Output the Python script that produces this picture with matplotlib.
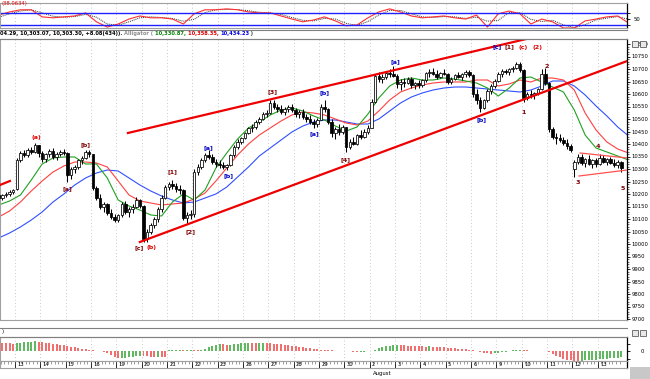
import matplotlib
matplotlib.use("Agg")
import matplotlib.pyplot as plt
from matplotlib import font_manager
from matplotlib.lines import Line2D
from matplotlib.patches import Rectangle
import numpy as np

try:
    font_manager.findfont("Liberation Sans Narrow", fallback_to_default=False)
    plt.rcParams["font.family"] = ["Liberation Sans Narrow", "DejaVu Sans"]
    FS = 4.8
except ValueError:
    plt.rcParams["font.family"] = ["DejaVu Sans"]
    FS = 3.8

# ---- data: DJIA hourly bars, 7 per day ----
day_labels = ["12", "13", "14", "15", "16", "19", "20", "21", "22", "23", "26", "27", "28",
              "29", "30", "2", "3", "4", "5", "6", "9", "10", "11", "12", "13"]
bars_per_day = 7

opens = [10198, 10205, 10195, 10185, 10196, 10200, 10210,
         10220, 10336, 10365, 10356, 10378, 10370, 10395,
         10363, 10340, 10360, 10372, 10348, 10362, 10370,
         10366, 10275, 10300, 10310, 10335, 10345, 10370,
         10359, 10225, 10185, 10150, 10160, 10125, 10110,
         10097, 10115, 10160, 10130, 10140, 10150, 10178,
         10154, 10020, 10050, 10075, 10100, 10140, 10185,
         10229, 10240, 10232, 10222, 10215, 10105, 10118,
         10120, 10290, 10310, 10338, 10355, 10350, 10328,
         10322, 10315, 10310, 10318, 10355, 10388, 10410,
         10424, 10445, 10465, 10470, 10490, 10500, 10520,
         10525, 10565, 10548, 10540, 10530, 10542, 10550,
         10537, 10520, 10528, 10510, 10500, 10490, 10480,
         10497, 10550, 10540, 10490, 10445, 10460, 10450,
         10467, 10390, 10410, 10400, 10435, 10430, 10450,
         10466, 10570, 10672, 10660, 10670, 10685, 10680,
         10674, 10640, 10650, 10645, 10660, 10635, 10645,
         10636, 10655, 10685, 10690, 10680, 10670, 10685,
         10680, 10650, 10662, 10675, 10670, 10680, 10688,
         10675, 10600, 10575, 10545, 10575, 10612, 10632,
         10654, 10680, 10692, 10688, 10700, 10705, 10720,
         10698, 10585, 10600, 10595, 10605, 10620, 10680,
         10644, 10460, 10430, 10425, 10418, 10405, 10392,
         10300, 10330, 10350, 10325, 10340, 10322, 10335,
         10320, 10345, 10330, 10340, 10325, 10318, 10328]
highs = [10215, 10212, 10205, 10200, 10210, 10218, 10222,
         10345, 10372, 10378, 10385, 10390, 10404, 10398,
         10372, 10365, 10380, 10385, 10368, 10378, 10382,
         10368, 10310, 10318, 10340, 10352, 10378, 10375,
         10362, 10232, 10200, 10168, 10165, 10140, 10120,
         10120, 10170, 10172, 10150, 10160, 10190, 10182,
         10156, 10060, 10085, 10110, 10150, 10195, 10235,
         10250, 10255, 10245, 10238, 10220, 10130, 10135,
         10300, 10320, 10345, 10365, 10375, 10360, 10340,
         10335, 10330, 10320, 10360, 10395, 10420, 10430,
         10450, 10470, 10480, 10495, 10510, 10530, 10535,
         10578, 10575, 10560, 10555, 10548, 10558, 10560,
         10545, 10535, 10540, 10520, 10515, 10500, 10505,
         10560, 10578, 10545, 10500, 10470, 10480, 10475,
         10470, 10420, 10430, 10440, 10455, 10460, 10475,
         10580, 10680, 10690, 10680, 10690, 10700, 10712,
         10680, 10660, 10665, 10670, 10668, 10650, 10655,
         10660, 10690, 10700, 10705, 10695, 10690, 10700,
         10685, 10670, 10680, 10690, 10685, 10695, 10695,
         10680, 10620, 10590, 10580, 10620, 10640, 10660,
         10690, 10700, 10700, 10705, 10712, 10728, 10730,
         10700, 10610, 10615, 10610, 10625, 10700, 10705,
         10648, 10470, 10445, 10440, 10430, 10420, 10400,
         10335, 10360, 10362, 10345, 10355, 10340, 10345,
         10362, 10355, 10345, 10350, 10340, 10335, 10332]
lows = [10185, 10190, 10178, 10175, 10188, 10192, 10200,
        10218, 10330, 10350, 10350, 10360, 10365, 10350,
        10330, 10330, 10350, 10340, 10335, 10352, 10355,
        10250, 10262, 10285, 10300, 10320, 10340, 10350,
        10215, 10175, 10140, 10130, 10115, 10100, 10088,
        10090, 10108, 10120, 10110, 10125, 10145, 10145,
        10010, 10008, 10040, 10065, 10090, 10130, 10180,
        10215, 10220, 10210, 10200, 10095, 10085, 10100,
        10110, 10275, 10300, 10330, 10340, 10320, 10310,
        10305, 10300, 10296, 10312, 10350, 10380, 10400,
        10420, 10440, 10450, 10462, 10480, 10495, 10510,
        10520, 10540, 10530, 10520, 10515, 10530, 10528,
        10510, 10505, 10500, 10490, 10480, 10465, 10470,
        10495, 10530, 10480, 10430, 10420, 10435, 10440,
        10368, 10380, 10395, 10395, 10420, 10425, 10440,
        10465, 10565, 10650, 10645, 10660, 10670, 10668,
        10625, 10615, 10630, 10640, 10625, 10620, 10625,
        10630, 10650, 10670, 10675, 10660, 10665, 10675,
        10640, 10640, 10655, 10665, 10655, 10670, 10668,
        10590, 10560, 10530, 10540, 10570, 10600, 10625,
        10650, 10670, 10680, 10678, 10690, 10700, 10690,
        10570, 10575, 10585, 10580, 10595, 10615, 10635,
        10450, 10420, 10400, 10410, 10395, 10380, 10370,
        10270, 10320, 10315, 10310, 10318, 10305, 10310,
        10315, 10325, 10318, 10320, 10310, 10305, 10288]
closes = [10205, 10195, 10185, 10196, 10200, 10210, 10216,
          10336, 10365, 10356, 10378, 10370, 10395, 10363,
          10340, 10360, 10372, 10348, 10362, 10370, 10366,
          10275, 10300, 10310, 10335, 10345, 10370, 10359,
          10225, 10185, 10150, 10160, 10125, 10110, 10097,
          10115, 10160, 10130, 10140, 10150, 10178, 10154,
          10020, 10050, 10075, 10100, 10140, 10185, 10229,
          10240, 10232, 10222, 10215, 10105, 10118, 10120,
          10290, 10310, 10338, 10355, 10350, 10328, 10322,
          10315, 10310, 10318, 10355, 10388, 10410, 10424,
          10445, 10465, 10470, 10490, 10500, 10520, 10525,
          10565, 10548, 10540, 10530, 10542, 10550, 10537,
          10520, 10528, 10510, 10500, 10490, 10480, 10497,
          10550, 10540, 10490, 10445, 10460, 10450, 10467,
          10390, 10410, 10400, 10435, 10430, 10450, 10466,
          10570, 10672, 10660, 10670, 10685, 10680, 10674,
          10640, 10650, 10645, 10660, 10635, 10645, 10636,
          10655, 10685, 10690, 10680, 10670, 10685, 10680,
          10650, 10662, 10675, 10670, 10680, 10688, 10675,
          10600, 10575, 10545, 10575, 10612, 10632, 10654,
          10680, 10692, 10688, 10700, 10705, 10720, 10698,
          10585, 10600, 10595, 10605, 10620, 10680, 10644,
          10460, 10430, 10425, 10418, 10405, 10392, 10378,
          10330, 10350, 10325, 10340, 10322, 10335, 10320,
          10345, 10330, 10340, 10325, 10318, 10328, 10303]

# Alligator lines, read every 3 bars
line_x = list(range(2, 177, 3))
jaw = [10024, 10044, 10068, 10096, 10128, 10168, 10200, 10236, 10264, 10284,
       10296, 10292, 10264, 10236, 10212, 10192, 10176, 10164, 10168, 10184,
       10200, 10228, 10268, 10308, 10352, 10384, 10416, 10448, 10472, 10488,
       10496, 10496, 10488, 10480, 10480, 10500, 10532, 10564, 10588, 10604,
       10616, 10624, 10628, 10628, 10624, 10620, 10616, 10612, 10608, 10616,
       10632, 10652, 10652, 10632, 10596, 10552, 10512, 10468, 10432]
teeth = [10108, 10132, 10168, 10212, 10252, 10288, 10312, 10328, 10328, 10324,
         10308, 10252, 10196, 10172, 10164, 10156, 10160, 10164, 10180, 10204,
         10252, 10304, 10356, 10400, 10436, 10464, 10492, 10516, 10528, 10524,
         10516, 10500, 10484, 10476, 10492, 10532, 10576, 10608, 10624, 10636,
         10644, 10648, 10648, 10648, 10656, 10656, 10632, 10640, 10656, 10648,
         10664, 10664, 10656, 10616, 10524, 10456, 10408, 10380, 10364]
lips = [10156, 10172, 10196, 10256, 10320, 10344, 10348, 10348, 10320, 10320,
        10264, 10176, 10152, 10136, 10116, 10112, 10168, 10200, 10176, 10216,
        10304, 10364, 10420, 10464, 10488, 10516, 10536, 10544, 10532, 10512,
        10496, 10472, 10452, 10468, 10520, 10584, 10632, 10656, 10664, 10656,
        10656, 10664, 10660, 10652, 10644, 10624, 10592, 10624, 10664, 10668,
        10648, 10628, 10608, 10536, 10436, 10384, 10368, 10352, 10336]

# top oscillator (same sampling)
osc = [62, 72, 79, 79, 56, 53, 56, 59, 69, 40, 23, 33, 49, 59, 53, 53, 49, 33, 66, 79,
       79, 82, 79, 72, 69, 69, 59, 49, 40, 46, 56, 43, 27, 30, 53, 72, 82, 72, 59, 53,
       56, 59, 53, 49, 62, 23, 66, 75, 66, 33, 49, 40, 20, 20, 43, 49, 56, 59, 36]
osc_sig = [55, 66, 75, 79, 69, 58, 55, 57, 64, 55, 33, 29, 40, 53, 56, 54, 51, 42, 48, 70,
           79, 80, 80, 76, 71, 69, 64, 54, 45, 43, 51, 49, 35, 28, 41, 62, 77, 77, 66, 56,
           54, 57, 56, 51, 55, 42, 45, 70, 70, 48, 41, 45, 30, 21, 31, 46, 52, 57, 48]

# bottom histogram, one value per bar
hist = [50, 48, 46, 44, 42, 41, 40,
        42, 44, 46, 48, 50, 52, 50,
        48, 45, 42, 40, 37, 35, 32,
        28, 24, 20, 16, 12, 9, 7,
        5, 3, 0, -5, -12, -20, -30,
        -38, -36, -34, -32, -30, -28, -26,
        -27, -28, -29, -30, -30, -31, -32,
        4, 5, 6, 6, 5, 6, 7,
        6, 5, 8, 14, 20, 28, 35,
        38, 36, 34, 35, 38, 40, 41,
        42, 44, 43, 42, 44, 45, 43,
        42, 40, 38, 36, 34, 32, 30,
        27, 24, 21, 18, 15, 12, 10,
        8, 6, 5, 4, 3, 2, 2,
        1, 0, -2, -4, -3, -2, -1,
        2, 8, 15, 22, 27, 30, 32,
        34, 33, 31, 30, 28, 27, 26,
        25, 24, 25, 24, 23, 22, 21,
        19, 17, 15, 13, 11, 9, 7,
        5, 2, -3, -8, -12, -14, -12,
        -10, -6, -2, 2, 4, 5, 6,
        5, 4, 3, 2, 1, 2, 1,
        -5, -15, -25, -33, -40, -45, -48,
        -50, -52, -50, -49, -48, -47, -46,
        -44, -42, -40, -38, -36, -34, -32]

# trend lines (bar, price)
channel_top = [(37.7, 10444), (160.0, 10862)]
channel_bottom = [(41.0, 10008), (176.0, 10734)]
old_line = [(2.0, 10234), (5.1, 10252)]
tri_top = [(162.6, 10364), (175.6, 10344)]
tri_bottom = [(162.3, 10272), (175.6, 10296)]

# wave labels
wave_text = ["(a)", "[a]", "[b]", "[c]", "(b)", "[1]", "[2]", "[a]", "[b]", "[3]", "[a]", "[b]",
             "[4]", "[a]", "[b]", "[c]", "[1]", "(c)", "(2)", "1", "2", "3", "4", "5"]
wave_bar = [12.3, 21.1, 26.1, 40.8, 44.3, 49.9, 55.1, 59.8, 65.6, 77.5, 89.1, 91.9,
            97.9, 111.5, 135.5, 139.6, 143.0, 146.8, 150.7, 147.1, 153.5, 162.0, 167.6, 174.5]
wave_price = [10428, 10220, 10396, 9984, 9984, 10288, 10048, 10384, 10272, 10608, 10440, 10604,
              10336, 10728, 10496, 10788, 10788, 10788, 10788, 10528, 10712, 10248, 10388, 10224]
wave_color = ["#e00000", "#800000", "#800000", "#800000", "#e00000", "#800000", "#800000",
              "#0000c0", "#0000c0", "#800000", "#0000c0", "#0000c0", "#800000", "#0000c0",
              "#0000c0", "#0000c0", "#800000", "#e00000", "#e00000", "#800000", "#800000",
              "#800000", "#800000", "#800000"]

W, H = 650, 379
fig = plt.figure(figsize=(6.5, 3.79), dpi=100)
fig.patch.set_facecolor("white")


def box(x0, y0, x1, y1):
    return [x0 / W, 1 - y1 / H, (x1 - x0) / W, (y1 - y0) / H]


xlim = (2.36, 175.56)
n = len(closes)
idx = np.arange(n)
day_starts = np.arange(len(day_labels)) * bars_per_day - 0.5

ax_o = fig.add_axes(box(0, 3, 627, 28))
ax = fig.add_axes(box(0, 39, 627, 320))
ax_h = fig.add_axes(box(0, 337, 627, 361))
ax_d = fig.add_axes(box(0, 361, 627, 368))

for a in (ax_o, ax, ax_h, ax_d):
    a.set_xlim(*xlim)
    for s in ("top", "left", "bottom"):
        a.spines[s].set_color("#a0a0a0")
        a.spines[s].set_linewidth(0.8)
    a.spines["right"].set_linewidth(0.9)
    a.tick_params(axis="x", bottom=False, labelbottom=False)
for a in (ax_o, ax, ax_h):
    for g in day_starts[1:]:
        a.axvline(g, color="#b8b8b8", lw=0.6, ls=(0, (1, 3)), zorder=0)

# ---- main candles ----
o = np.array(opens)
c = np.array(closes)
up = c >= o
ax.vlines(idx, lows, highs, color="black", lw=0.75, zorder=3)
body_h = np.maximum(np.abs(c - o), 2)
ax.bar(idx[up], body_h[up], bottom=np.minimum(o, c)[up], width=0.7,
       facecolor="white", edgecolor="black", linewidth=0.55, zorder=4)
ax.bar(idx[~up], body_h[~up], bottom=np.minimum(o, c)[~up], width=0.7,
       facecolor="black", edgecolor="black", linewidth=0.55, zorder=4)

ax.plot(line_x, jaw, color="#3050ff", lw=0.8, zorder=2)
ax.plot(line_x, teeth, color="#ff4040", lw=0.8, zorder=2)
ax.plot(line_x, lips, color="#20a020", lw=0.8, zorder=2)

for ln in (channel_top, channel_bottom, old_line):
    ax.plot([p[0] for p in ln], [p[1] for p in ln], color="#ee0000", lw=1.6, zorder=5)
for ln in (tri_top, tri_bottom):
    ax.plot([p[0] for p in ln], [p[1] for p in ln], color="#ff5050", lw=0.9, zorder=5)

for t, bx, py, col in zip(wave_text, wave_bar, wave_price, wave_color):
    ax.text(bx, py, t, color=col, fontsize=4.6, fontweight="bold",
            ha="center", va="center", zorder=6)

ax.set_ylim(9696, 10820)
ax.yaxis.tick_right()
ax.set_yticks(np.arange(9700, 10801, 50))
ax.set_yticks(np.arange(9700, 10801, 10), minor=True)
ax.tick_params(axis="y", which="major", labelsize=FS, length=2.5, width=0.6, pad=0.5)
ax.tick_params(axis="y", which="minor", length=1.2, width=0.4)

# ---- top oscillator ----
ax_o.plot(line_x, osc_sig, color="#303030", lw=0.7, ls=(0, (1, 1)))
ax_o.plot(line_x, osc, color="#ff3030", lw=0.8)
ax_o.axhline(70, color="#2020ff", lw=1.0)
ax_o.axhline(30, color="#2020ff", lw=1.0)
ax_o.set_ylim(20, 101)
ax_o.yaxis.tick_right()
ax_o.set_yticks([30, 50, 70])
ax_o.set_yticklabels(["", "50", ""])
ax_o.tick_params(axis="y", labelsize=FS, length=2, width=0.6, pad=3)

# ---- bottom histogram ----
hv = np.array(hist)
rising = np.diff(hv, prepend=hv[0]) >= 0
ax_h.bar(idx[rising], hv[rising], width=0.55, color="#60b860")
ax_h.bar(idx[~rising], hv[~rising], width=0.55, color="#f07070")
ax_h.set_ylim(-52, 75)
ax_h.yaxis.tick_right()
ax_h.set_yticks([-40, 0, 40])
ax_h.set_yticklabels(["", "0", ""])
ax_h.tick_params(axis="y", labelsize=FS, length=2, width=0.6, pad=8)

# ---- date strip ----
ax_d.set_ylim(0, 1)
ax_d.set_yticks([])
ax_d.vlines(day_starts, 0, 1, color="black", lw=0.6)
ax_d.vlines(np.arange(n) - 0.5, 0.6, 1, color="#505050", lw=0.4)
for ds, lab in zip(day_starts, day_labels):
    if xlim[0] < ds + 1 < xlim[1]:
        ax_d.text(ds + 0.6, 0.45, lab, fontsize=FS, ha="left", va="center")
fig.text(373 / W, 1 - 373 / H, "August", fontsize=FS, ha="left", va="center")
fig.add_artist(Rectangle((630 / W, 0), 20 / W, 12 / H, color="#c8c8c8", lw=0))

# ---- header rows ----
for yy in (29.5, 38.5, 327.5, 336.5):
    fig.add_artist(Line2D([0, 627 / W], [1 - yy / H] * 2, color="#808080", lw=0.8))
fig.text(1 / W, 1 - 4 / H, "(38.0634)", color="#e00000", fontsize=FS, va="center")

header = [("04.29, 10,303.07, 10,303.30, +8.08(434)). ", "black"),
          ("Alligator ( ", "#909090"),
          ("10,330.87, ", "#008000"),
          ("10,358.35, ", "#e00000"),
          ("10,434.23", "#0000e0"),
          (" )", "#404040")]
renderer = fig.canvas.get_renderer()
xpos = 0.0
for txt, col in header:
    t = fig.text(xpos / W, 1 - 34 / H, txt, color=col, fontsize=3.7, va="center",
                 fontweight="bold")
    xpos += t.get_window_extent(renderer).width

fig.text(2 / W, 1 - 332 / H, ")", fontsize=FS, va="center")
for x0, y0 in ((632, 41), (640, 41), (632, 330), (640, 330)):
    fig.add_artist(Rectangle((x0 / W, 1 - (y0 + 6) / H), 6 / W, 6 / H,
                             facecolor="#e8e8e8", edgecolor="#404040", lw=0.5))

fig.savefig("out.png", dpi=100)
